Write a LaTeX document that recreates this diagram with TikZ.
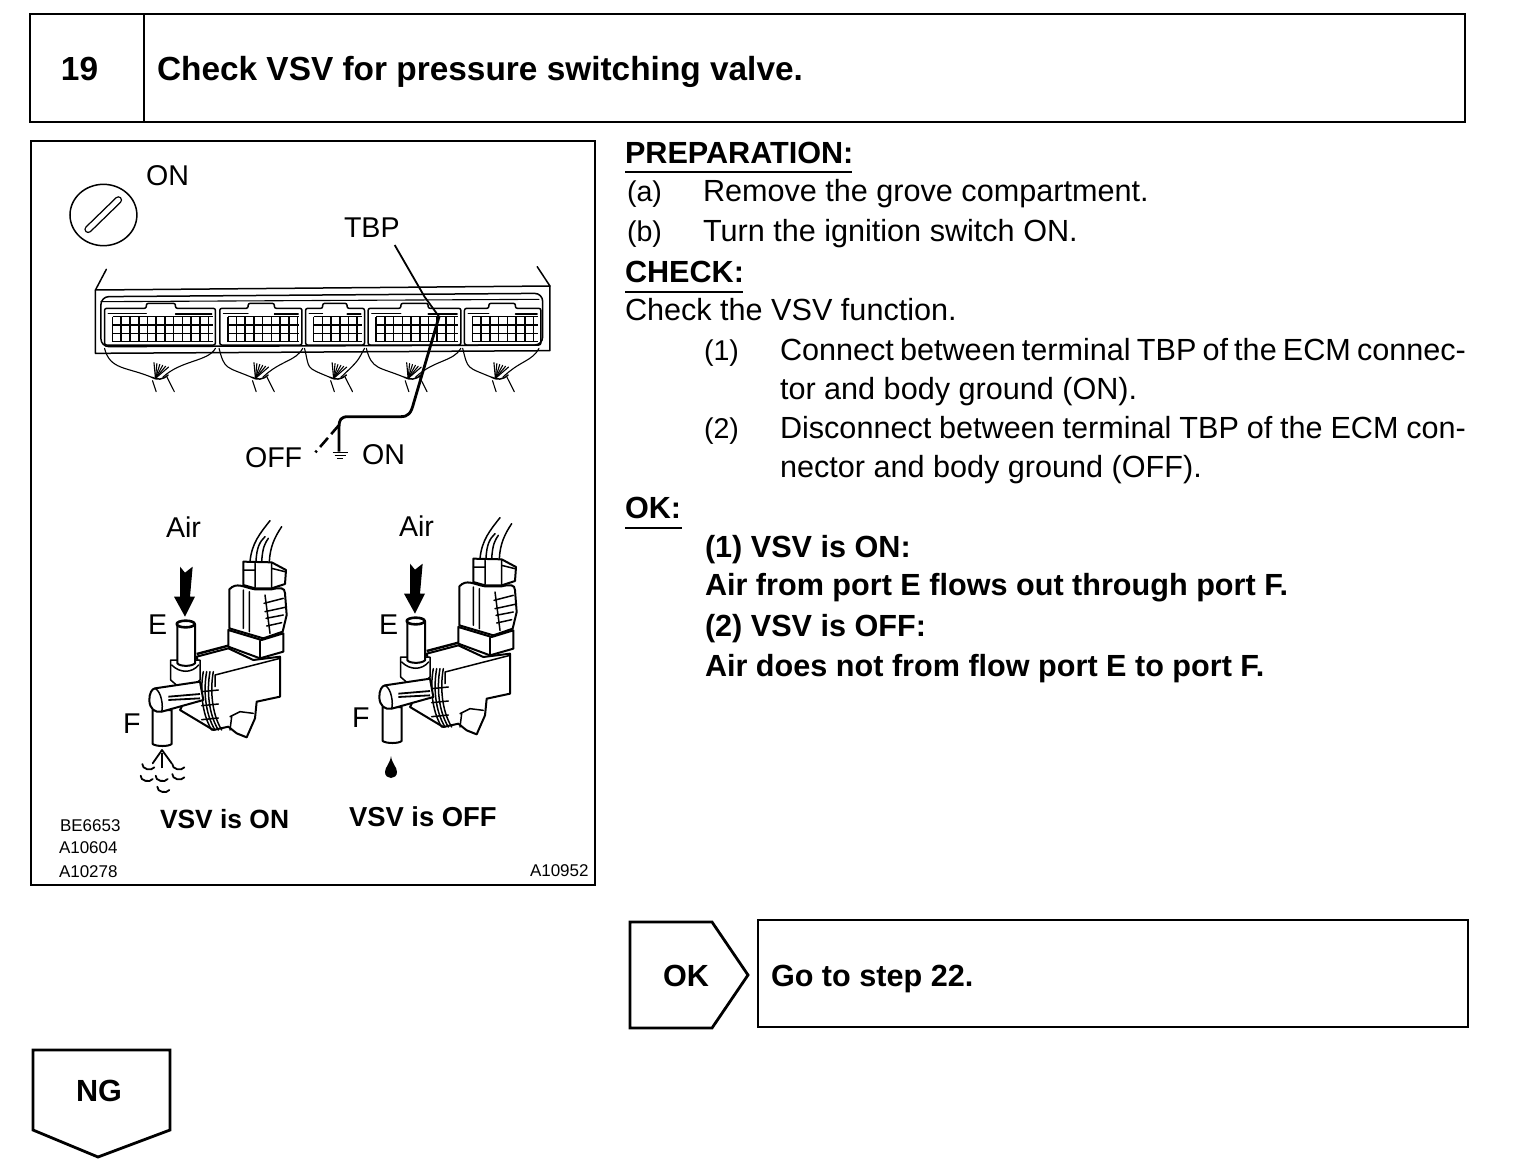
\documentclass[tikz,border=0pt]{standalone}
\usepackage{fontspec}
\setmainfont{Liberation Sans}
\newcommand{\panelfs}{\fontsize{14.3}{17}\selectfont}
\newcommand{\bodyfs}{\fontsize{15.3}{18}\selectfont}
\newcommand{\boldfs}{\fontsize{15.3}{18}\selectfont\bfseries}
\newcommand{\titlefs}{\fontsize{16.7}{19}\selectfont\bfseries}
\newcommand{\codefs}{\fontsize{8.5}{10}\selectfont}
\tikzset{
 px/.style={inner sep=0,outer sep=0,anchor=base west},
 pt/.style={px,font=\panelfs},
 bt/.style={px,font=\bodyfs},
 bb/.style={px,font=\boldfs},
 tt/.style={px,font=\titlefs},
 cc/.style={px,font=\codefs},
 frame/.style={draw=black,line width=1.4pt,fill=white},
 rule/.style={draw=black,line width=0.7pt},
 ink/.style={draw=black,line width=0.75pt,line join=round,line cap=round},
 thin ink/.style={draw=black,line width=0.55pt,line join=round,line cap=round},
 zoomA/.style={shift={(30,140)},x=0.1818pt,y=-0.16667pt},
 zoomB/.style={x=0.16667pt,y=-0.16667pt},
}
% one connector block, in zoom units
\newcommand{\blockconn}[4]{%
 \draw[ink,rounded corners=1pt] (#1,615) -- (#1,505) -- (#3,505) -- (#3,490) -- (#4,490) -- (#4,505) -- (#2,505) -- (#2,615) -- cycle;
 \draw[thin ink] (#1+10,520) -- (#3,520) (#4,522) -- (#2-10,522);
 \foreach \yy in {530,555,580,605}{\draw[draw=black,line width=0.8pt] (#1+22,\yy) -- (#2-8,\yy);}
 \pgfmathsetmacro{\stepa}{#1+22}\pgfmathsetmacro{\stepb}{#1+46}\pgfmathsetmacro{\stepe}{#2-8}
 \foreach \xx in {\stepa,\stepb,...,\stepe}{\draw[draw=black,line width=0.8pt] (\xx,530) -- (\xx,605);}
}
\newcommand{\wires}[3]{%
 \draw[thin ink] (#1,625) .. controls (#1+15,690) and (#3-70,680) .. (#3,712);
 \draw[thin ink] (#2,625) .. controls (#2-20,665) and (#3+80,660) .. (#3+30,712);
 \foreach \a in {-12,-4,4,12,20,28}{\draw[thin ink] (#3+10,715) -- (#3+18+\a,672+\a/3);}
 \draw[ink] (#3,712) .. controls (#3+15,720) and (#3+30,720) .. (#3+45,705);
 \draw[thin ink] (#3+2,722) -- (#3+12,755) (#3+42,712) -- (#3+62,755);
}
% valve drawn in the units of a 3x crop whose corner is at the scope origin
\newcommand{\valve}{%
 % air arrow
 \fill[black] (240,200) -- (255,218) -- (278,200) -- (270,290) -- (285,290) -- (255,350) -- (222,290) -- (240,290) -- cycle;
 % wires
 \draw[ink] (450,185) .. controls (455,130) and (480,100) .. (510,62);
 \draw[ink] (468,185) .. controls (470,140) and (480,125) .. (495,110);
 \draw[ink] (485,185) .. controls (488,140) and (495,130) .. (505,115);
 \draw[ink] (508,185) .. controls (510,140) and (525,110) .. (545,80);
 % plug
 \draw[ink,fill=white,line width=1pt] (430,185) -- (430,255) -- (465,265) -- (515,265) -- (555,252) -- (558,210) -- (515,187) -- cycle;
 \draw[ink] (465,190) -- (465,262) (515,190) -- (515,262) (430,210) -- (465,210) (515,205) -- (555,215);
 % housing
 \draw[ink,fill=white,line width=1pt] (388,268) .. controls (410,245) and (430,262) .. (465,268) -- (515,268) .. controls (540,262) and (555,262) .. (555,280) -- (560,345) -- (548,395) -- (490,415) -- (388,385) -- cycle;
 \draw[ink] (430,270) -- (430,385) (448,275) -- (448,395) (495,285) -- (510,400);
 \draw[ink] (492,310) -- (550,295) (495,335) -- (555,322) (498,355) -- (550,345) (500,378) -- (545,368);
 % mount
 \draw[ink,fill=white,line width=1pt] (385,390) -- (385,440) -- (480,475) -- (550,455) -- (550,400) -- (485,420) -- cycle;
 \draw[ink] (480,422) -- (480,475);
 % body
 \draw[ink,fill=white,line width=1pt] (290,470) -- (385,445) -- (460,480) -- (540,470) -- (540,590) -- (470,605) -- (465,655) -- (440,712) -- (410,700) -- (385,680) -- (340,690) -- (240,630) -- (300,510) -- cycle;
 \draw[draw=black,line width=1.2pt] (290,462) -- (385,437);
 \draw[ink] (345,525) -- (540,475) (345,525) -- (345,560) (390,650) -- (420,635) -- (460,640) (395,650) -- (390,690);
 % coil
 \foreach \d in {0,10,20,30}{\draw[ink] (310+\d,515) .. controls (300+\d,570) and (305+\d,640) .. (335+\d,690);}
 \foreach \d in {0,14,28}{\draw[ink] (305,575+\d*3) -- (355,570+\d*3);}
 % collar
 \draw[ink,fill=white] (212,480) -- (212,540) -- (235,560) -- (275,560) -- (300,540) -- (300,480) -- cycle;
 \draw[ink] (215,495) .. controls (240,520) and (275,520) .. (296,495);
 % E tube
 \draw[ink,fill=white,line width=1pt] (232,372) -- (232,490) .. controls (240,500) and (275,500) .. (285,490) -- (285,372) -- cycle;
 \draw[ink,fill=white,line width=1.3pt] (257,372) ellipse (27 and 10);
 % F vertical tube
 \draw[ink,fill=white,line width=1pt] (158,630) -- (158,732) .. controls (170,740) and (205,740) .. (215,732) -- (215,630) -- cycle;
 % F horizontal tube
 \draw[ink,fill=white,line width=1pt] (165,565) -- (300,545) -- (310,600) -- (185,635) .. controls (165,640) and (148,625) .. (148,600) .. controls (148,580) and (155,567) .. (165,565) -- cycle;
 \draw[ink] (165,565) .. controls (185,575) and (190,620) .. (185,635);
 \draw[draw=black,line width=0.9pt] (205,590) -- (300,582) (205,600) -- (300,595);
}
\begin{document}
\begin{tikzpicture}[x=0.5pt,y=-0.5pt]
\useasboundingbox (0,0) rectangle (1520,1166);
\fill[white] (0,0) rectangle (1520,1166);

% header
\draw[frame] (30,14) rectangle (1465,122);
\draw[frame] (144,14) -- (144,122);
\node[tt] (stepno) at (61,81) {19};
\node[tt] (title) at (157,81) {Check VSV for pressure switching valve.};

% left panel
\draw[frame] (31,141) rectangle (595,885);
\node[pt] (keyon) at (146,186) {ON};
\node[pt] (tbp) at (344,238) {TBP};
\node[pt] (off) at (245,467) {OFF};
\node[pt] (gon) at (362,464) {ON};
\node[pt] (air1) at (166,537) {Air};
\node[pt] (air2) at (399,536) {Air};
\node[pt] (e1) at (148,634) {E};
\node[pt] (e2) at (379,634) {E};
\node[pt] (f1) at (123,733) {F};
\node[pt] (f2) at (352,727) {F};
\node[px,font=\fontsize{13.2}{16}\selectfont\bfseries] (vsvon) at (160,828) {VSV is ON};
\node[px,font=\fontsize{13.7}{16}\selectfont\bfseries] (vsvoff) at (349,826) {VSV is OFF};
\node[cc] (c1) at (60,831) {BE6653};
\node[cc] (c2) at (59,853) {A10604};
\node[cc] (c3) at (59,877) {A10278};
\node[cc] (c4) at (530,876) {A10952};

\begin{scope}[zoomA]
 % ignition key
 \draw[ink] (202,225) circle (92);
 \draw[draw=black,line width=3.8pt,line cap=round] (160,268) -- (243,180);
 \draw[draw=white,line width=2.4pt,line cap=round] (160,268) -- (243,180);
 % ECM outline
 \draw[ink] (210,388) -- (180,450) -- (1430,438) -- (1395,380);
 \draw[ink] (180,450) -- (180,640) -- (1430,632) -- (1430,438);
 \draw[ink,rounded corners=4pt] (195,620) -- (195,470) -- (1410,460) -- (1410,615) -- cycle;
 \draw[thin ink] (195,485) -- (1400,478);
 \blockconn{205}{510}{320}{400}
 \blockconn{522}{748}{600}{672}
 \blockconn{758}{920}{805}{872}
 \blockconn{930}{1185}{1020}{1095}
 \blockconn{1195}{1405}{1262}{1335}
 \wires{205}{510}{335}
 \wires{520}{750}{610}
 \wires{755}{920}{825}
 \wires{925}{1185}{1030}
 \wires{1190}{1400}{1270}
 % TBP lead and probe wire
 \coordinate (leadtop) at (1003,315);
 \coordinate (probe) at (1125,530);
 \coordinate (gnd) at (850,935);
 \draw[draw=black,line width=0.9pt] (leadtop) -- (1085,470) -- (probe);
 \draw[draw=black,line width=1.4pt,line join=round] (probe) -- (1055,790) .. controls (1048,820) and (1040,830) .. (1020,830) -- (875,830) .. controls (855,830) and (850,840) .. (850,860) -- (gnd);
 \draw[draw=black,line width=1.3pt,dash pattern=on 6pt off 2.5pt] (850,855) -- (785,937);
 \draw[draw=black,line width=0.7pt] (832,937) -- (874,937) (838,947) -- (868,947) (844,956) -- (862,956);
\end{scope}

% valves
\begin{scope}[shift={(100,500)},zoomB]\valve\end{scope}
\begin{scope}[shift={(330,497)},zoomB]\valve\end{scope}

% air puff
\begin{scope}[shift={(100,500)},zoomB]
 \draw[draw=black,line width=1.1pt] (186,805) -- (186,760);
 \draw[ink,line width=0.9pt] (158,790) -- (186,750) -- (215,790);
 \foreach \cx/\cy in {145/800,235/800,140/835,185/835,235/830,190/868}{
  \draw[ink,line width=0.9pt] (\cx-18,\cy-8) .. controls (\cx-20,\cy+8) and (\cx+10,\cy+14) .. (\cx+18,\cy+2);}
\end{scope}
% drip
\fill[black] (391,756) .. controls (392,764) and (397,767) .. (397,772) .. controls (397,780) and (385,780) .. (385,772) .. controls (385,767) and (390,764) .. (391,756) -- cycle;

% instructions
\node[bb] (prep) at (625,164) {PREPARATION:};
\draw[rule] (625,172) -- (852,172);
\node[pt] (a) at (627,202) {(a)};
\node[bt] (at) at (703,202) {Remove the grove compartment.};
\node[pt] (b) at (627,242) {(b)};
\node[bt] (bt1) at (703,242) {Turn the ignition switch ON.};
\node[bb] (check) at (625,283) {CHECK:};
\draw[rule] (625,292) -- (743,292);
\node[bt] (ck) at (625,321) {Check the VSV function.};
\node[pt] (n1) at (704,360) {(1)};
\node[bt] (n1a) at (780,360) {\makebox[343pt][s]{Connect between terminal TBP of the ECM connec-}};
\node[bt] (n1b) at (780,399) {tor and body ground (ON).};
\node[pt] (n2) at (704,438) {(2)};
\node[bt] (n2a) at (780,438) {\makebox[343pt][s]{Disconnect between terminal TBP of the ECM con-}};
\node[bt] (n2b) at (780,477) {nector and body ground (OFF).};
\node[bb] (ok) at (625,518) {OK:};
\draw[rule] (625,528) -- (682,528);
\node[bb] (r1) at (705,557) {(1) VSV is ON:};
\node[bb] (r2) at (705,595) {Air from port E flows out through port F.};
\node[bb] (r3) at (705,636) {(2) VSV is OFF:};
\node[bb] (r4) at (705,676) {Air does not from flow port E to port F.};

% OK / NG flow boxes
\draw[frame] (630,922) -- (712,922) -- (748,975) -- (712,1028) -- (630,1028) -- cycle;
\node[bb] (oklab) at (663,986) {OK};
\draw[frame] (758,920) rectangle (1468,1027);
\node[bb] (goto) at (771,986) {Go to step 22.};
\draw[frame] (33,1050) -- (170,1050) -- (170,1130) -- (98,1157) -- (33,1130) -- cycle;
\node[bb] (nglab) at (76,1101) {NG};
\end{tikzpicture}
\end{document}
